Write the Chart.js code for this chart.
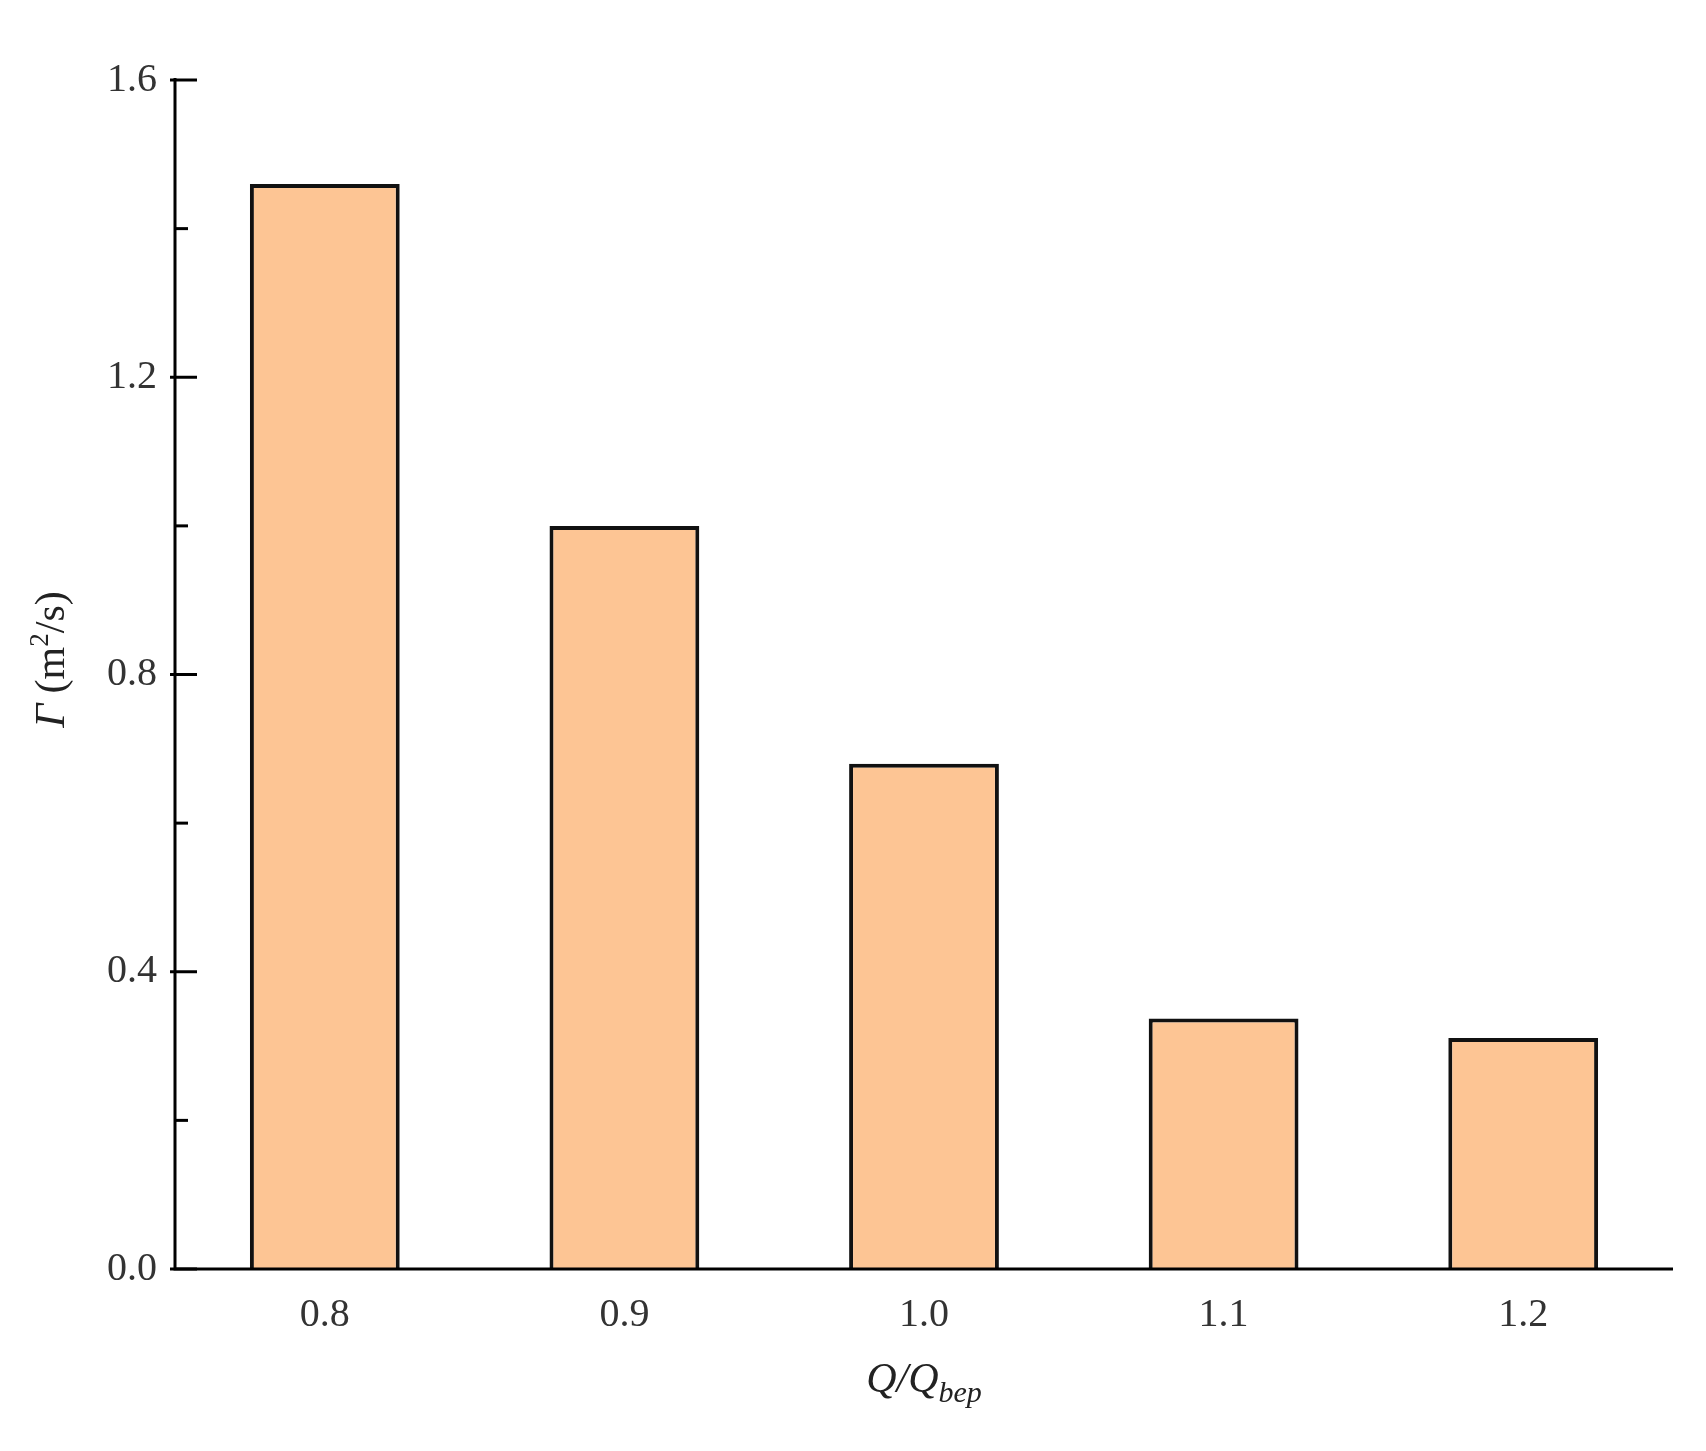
<!DOCTYPE html>
<html><head><meta charset="utf-8">
<script src="https://cdn.jsdelivr.net/npm/chart.js@4"></script>
<style>html,body{margin:0;padding:0;background:#fff}#c{display:block}</style>
</head><body>
<div style="width:1706px;height:1451px"><canvas id="c"></canvas></div>
<script>
const categories = ["0.8","0.9","1.0","1.1","1.2"];
const gammaValues = [1.46, 1.00, 0.68, 0.337, 0.311];
const yTicks = [0, 0.4, 0.8, 1.2, 1.6];

const FONT = "'Liberation Serif'";
const extras = {
  id:'extras',
  afterDraw(chart){
    const ctx=chart.ctx, y=chart.scales.y, ca=chart.chartArea;
    ctx.save();
    ctx.strokeStyle='#000'; ctx.lineWidth=3;
    ctx.beginPath();
    ctx.moveTo(ca.left, ca.top-2); ctx.lineTo(ca.left, ca.bottom);
    ctx.lineTo(ca.right, ca.bottom); ctx.stroke();
    for(let v=0; v<=1.6001; v+=0.2){
      const p=y.getPixelForValue(v);
      const major = Math.abs(v/0.4-Math.round(v/0.4))<1e-6;
      ctx.beginPath(); ctx.moveTo(ca.left-(major?5:0),p); ctx.lineTo(ca.left+(major?22:13),p); ctx.stroke();
    }
    ctx.fillStyle='#222';
    ctx.font="italic 42px "+FONT; ctx.textBaseline='alphabetic';
    const cx=(ca.left+ca.right)/2, by=1392;
    const t1="Q/Q", t2="bep";
    const w1=ctx.measureText(t1).width;
    ctx.font="italic 30px "+FONT; const w2=ctx.measureText(t2).width;
    let sx=cx-(w1+w2)/2;
    ctx.font="italic 42px "+FONT; ctx.textAlign='left'; ctx.fillText(t1,sx,by);
    ctx.font="italic 30px "+FONT; ctx.fillText(t2,sx+w1,by+10);
    ctx.translate(64,(ca.top+ca.bottom)/2-15); ctx.rotate(-Math.PI/2);
    ctx.font="italic 42px "+FONT; const a="Γ";
    const wa=ctx.measureText(a).width;
    ctx.font="42px "+FONT; const b=" (m", c2="/s)";
    const wb=ctx.measureText(b).width, wc=ctx.measureText(c2).width;
    ctx.font="27px "+FONT; const ws=ctx.measureText("2").width;
    let s=-(wa+wb+ws+wc)/2;
    ctx.font="italic 42px "+FONT; ctx.fillText(a,s,0); s+=wa;
    ctx.font="42px "+FONT; ctx.fillText(b,s,0); s+=wb;
    ctx.font="27px "+FONT; ctx.fillText("2",s,-16); s+=ws;
    ctx.font="42px "+FONT; ctx.fillText(c2,s,0);
    ctx.restore();
  }
};
new Chart(document.getElementById('c'),{
  type:'bar',
  data:{labels:categories,datasets:[{data:gammaValues,backgroundColor:'#FDC594',borderColor:'#111',borderWidth:4,borderSkipped:'bottom',barPercentage:0.5,categoryPercentage:1}]},
  options:{
    responsive:true, maintainAspectRatio:false, animation:false,
    layout:{padding:{top:80,right:33,left:0,bottom:0}},
    plugins:{legend:{display:false},tooltip:{enabled:false}},
    scales:{
      x:{grid:{display:false,drawTicks:false},border:{display:false},
         ticks:{color:'#333',font:{family:FONT,size:40},padding:22},
         afterFit(s){s.height=182;}},
      y:{min:0,max:1.6,grid:{display:false,drawTicks:false},border:{display:false},
         afterBuildTicks(s){s.ticks=yTicks.map(v=>({value:v}));},
         ticks:{color:'#333',font:{family:FONT,size:40},padding:18,callback:v=>v.toFixed(1)},
         afterFit(s){s.width=175;}}
    }
  },
  plugins:[extras]
});
</script></body></html>
